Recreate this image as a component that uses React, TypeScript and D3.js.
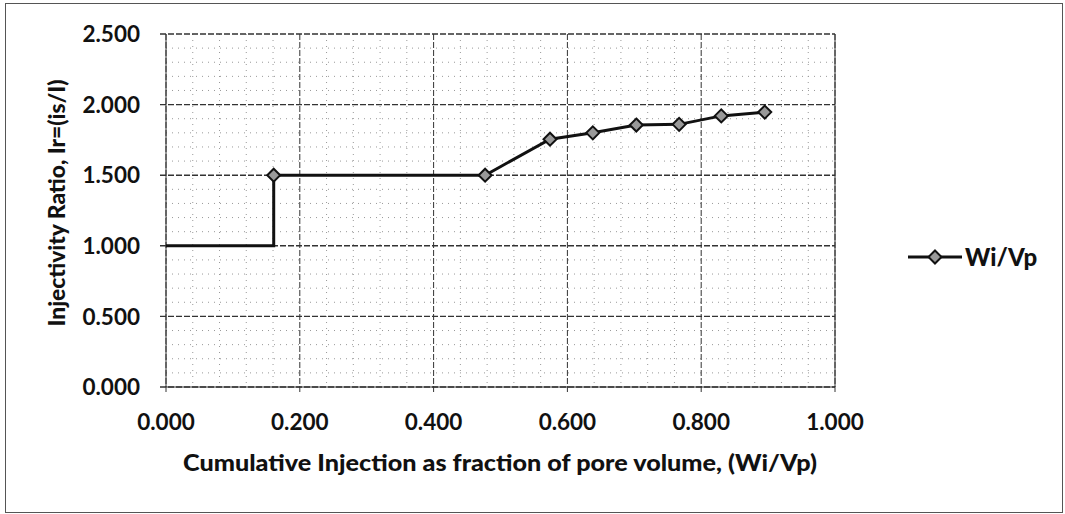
import React from "react";
import * as d3 from "d3";

const xValues = [0.0, 0.161, 0.161, 0.477, 0.574, 0.638, 0.703, 0.767, 0.83, 0.895];
const yValues = [1.0, 1.0, 1.5, 1.5, 1.755, 1.8, 1.855, 1.86, 1.92, 1.947];
const markerShown = [false, false, true, true, true, true, true, true, true, true];
const xTicks = [0, 0.2, 0.4, 0.6, 0.8, 1.0];
const yTicks = [0, 0.5, 1.0, 1.5, 2.0, 2.5];
const seriesName = "Wi/Vp";
const xTitle = "Cumulative Injection as fraction of pore volume, (Wi/Vp)";
const yTitle = "Injectivity Ratio, Ir=(is/I)";

export default function App() {
  const W = 1065, H = 514;
  const L = 166, R = 835, T = 34, B = 387;
  const x = d3.scaleLinear().domain([0, 1]).range([L, R]);
  const y = d3.scaleLinear().domain([0, 2.5]).range([B, T]);
  const pts = xValues.map((v, i) => [v, yValues[i]] as [number, number]);
  const line = d3.line<[number, number]>().x(d => x(d[0])).y(d => y(d[1]));
  const minorX = d3.range(0, 1.0001, 0.04).filter(v => Math.abs(v / 0.2 - Math.round(v / 0.2)) > 1e-6);
  const minorY = d3.range(0, 2.5001, 0.1).filter(v => Math.abs(v / 0.5 - Math.round(v / 0.5)) > 1e-6);
  const diamond = (cx: number, cy: number, r: number) =>
    `M${cx},${cy - r}L${cx + r},${cy}L${cx},${cy + r}L${cx - r},${cy}Z`;
  const font = "Lato, 'Open Sans', sans-serif";
  return (
    <svg width={W} height={H} style={{ position: "absolute", left: 0, top: 0 }}>
      <rect x={0} y={0} width={W} height={H} fill="#fff" />
      <rect x={5.5} y={3.5} width={1057} height={509} fill="none" stroke="#555" strokeWidth={1} />
      {minorX.map((v, i) => (
        <line key={"mx" + i} x1={x(v)} x2={x(v)} y1={T} y2={B} stroke="#999" strokeWidth={1} strokeDasharray="1,5" />
      ))}
      {minorY.map((v, i) => (
        <line key={"my" + i} x1={L} x2={R} y1={y(v)} y2={y(v)} stroke="#999" strokeWidth={1} strokeDasharray="1,5" />
      ))}
      {xTicks.map((v, i) => (
        <line key={"gx" + i} x1={x(v)} x2={x(v)} y1={T} y2={B + 5} stroke="#333" strokeWidth={1} strokeDasharray="6,2" />
      ))}
      {yTicks.map((v, i) => (
        <line key={"gy" + i} x1={L - 6} x2={R} y1={y(v)} y2={y(v)} stroke="#333" strokeWidth={1.4} strokeDasharray="6,2" />
      ))}
      <line x1={L} x2={L} y1={T} y2={B} stroke="#333" strokeWidth={1} />
      <line x1={R} x2={R} y1={T} y2={B} stroke="#333" strokeWidth={1} />
      <line x1={L} x2={R} y1={B} y2={B} stroke="#333" strokeWidth={1} />
      <path d={line(pts) || ""} fill="none" stroke="#111" strokeWidth={3} />
      {pts.map((p, i) =>
        markerShown[i] ? (
          <path key={"m" + i} d={diamond(x(p[0]), y(p[1]), 6.5)} fill="#999" stroke="#111" strokeWidth={2} />
        ) : null
      )}
      {yTicks.map((v, i) => (
        <text key={"ty" + i} x={140} y={y(v)} dy="0.36em" textAnchor="end" fontFamily={font} fontWeight="bold" fontSize={22.5} fill="#111">
          {v.toFixed(3)}
        </text>
      ))}
      {xTicks.map((v, i) => (
        <text key={"tx" + i} x={x(v)} y={422} dy="0.36em" textAnchor="middle" fontFamily={font} fontWeight="bold" fontSize={22.5} fill="#111">
          {v.toFixed(3)}
        </text>
      ))}
      <text x={500} y={463} dy="0.36em" textAnchor="middle" fontFamily={font} fontWeight="900" fontSize={22} fill="#111" textLength={634} lengthAdjust="spacingAndGlyphs">
        {xTitle}
      </text>
      <text transform={`translate(57,203) rotate(-90)`} dy="0.36em" textAnchor="middle" fontFamily={font} fontWeight="900" fontSize={22} fill="#111" textLength={247} lengthAdjust="spacingAndGlyphs">
        {yTitle}
      </text>
      <line x1={908} x2={962} y1={257} y2={257} stroke="#111" strokeWidth={3} />
      <path d={diamond(935, 257, 6.5)} fill="#999" stroke="#111" strokeWidth={2} />
      <text x={965} y={257} dy="0.36em" fontFamily={font} fontWeight="900" fontSize={24} fill="#111">
        {seriesName}
      </text>
    </svg>
  );
}
